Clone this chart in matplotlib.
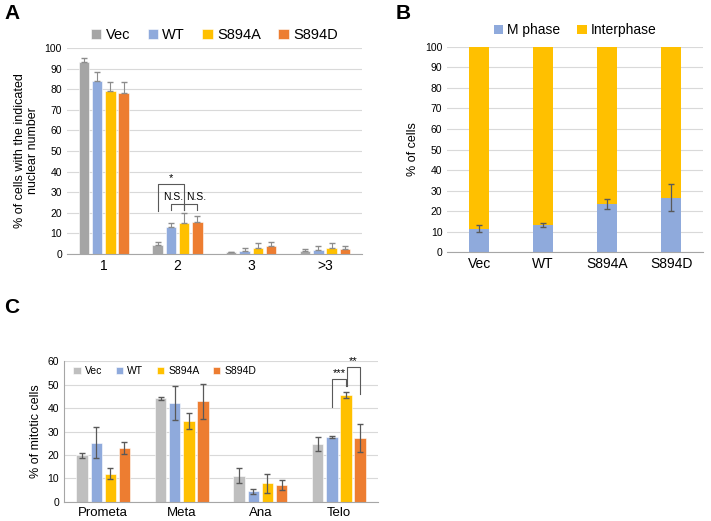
import matplotlib.pyplot as plt
import numpy as np

plt.rcParams['font.family'] = ['Liberation Sans', 'DejaVu Sans']

groups = ['Vec', 'WT', 'S894A', 'S894D']
colors_a = ['#A5A5A5', '#8FAADC', '#FFC000', '#ED7D31']
colors_c = ['#BFBFBF', '#8FAADC', '#FFC000', '#ED7D31']

# panel A: nuclear number
nuc_cats = ['1', '2', '3', '>3']
nuc_mean = {
    'Vec':   [93.0, 4.2, 0.8, 1.6],
    'WT':    [84.0, 13.0, 1.3, 2.0],
    'S894A': [79.0, 15.0, 3.0, 3.0],
    'S894D': [78.2, 15.5, 4.0, 2.4],
}
nuc_err = {
    'Vec':   [2.0, 1.5, 0.4, 0.8],
    'WT':    [4.5, 2.0, 1.8, 2.0],
    'S894A': [4.5, 5.0, 2.5, 2.2],
    'S894D': [5.5, 2.8, 1.8, 1.6],
}

# panel B: M phase vs interphase
mphase = [11.3, 13.2, 23.5, 26.5]
mphase_err = [1.7, 0.8, 2.5, 6.5]
interphase = [100 - v for v in mphase]

# panel C: mitotic stages
stages = ['Prometa', 'Meta', 'Ana', 'Telo']
mit_mean = {
    'Vec':   [19.8, 44.2, 11.2, 24.7],
    'WT':    [25.3, 42.3, 4.5, 27.8],
    'S894A': [12.0, 34.4, 8.0, 45.4],
    'S894D': [23.0, 42.8, 7.3, 27.2],
}
mit_err = {
    'Vec':   [1.0, 0.6, 3.3, 3.0],
    'WT':    [6.5, 7.2, 1.0, 0.5],
    'S894A': [2.3, 3.4, 4.0, 1.3],
    'S894D': [2.5, 7.5, 2.0, 6.0],
}

fig = plt.figure(figsize=(7.11, 5.21), dpi=100)
grid_c = '#D9D9D9'
spine_c = '#A6A6A6'


def style(ax):
    for s in ['top', 'right', 'left']:
        ax.spines[s].set_visible(False)
    ax.spines['bottom'].set_color(spine_c)
    ax.grid(axis='y', color=grid_c, linewidth=0.8)
    ax.set_axisbelow(True)
    ax.tick_params(axis='both', length=0)


def bracket(ax, x1, x2, top, y1, y2, lw=0.8):
    ax.plot([x1, x1, x2, x2], [y1, top, top, y2], color='#595959', lw=lw)


# ---- A ----
axA = fig.add_axes([0.094, 0.5125, 0.415, 0.3955])
x = np.arange(len(nuc_cats))
w, step = 0.14, 0.18
for i, g in enumerate(groups):
    xs = x + (i - 1.5) * step
    axA.bar(xs, nuc_mean[g], w, color=colors_a[i], label=g, edgecolor='white', linewidth=0.4)
    axA.errorbar(xs, nuc_mean[g], yerr=[np.zeros(4), nuc_err[g]], fmt='none',
                 ecolor='#8C8C8C', elinewidth=0.8, capsize=2)
axA.set_xlim(-0.5, 3.5)
axA.set_ylim(0, 100)
axA.set_yticks(range(0, 101, 10))
axA.set_xticks(x)
axA.set_xticklabels(nuc_cats, fontsize=10)
axA.tick_params(axis='y', labelsize=7.5)
style(axA)
axA.set_ylabel('% of cells with the indicated\nnuclear number', fontsize=9, linespacing=1.1)
axA.legend(loc='lower center', bbox_to_anchor=(0.5, 0.965), ncol=4, frameon=False,
           fontsize=10.5, handlelength=0.7, handleheight=0.7, handletextpad=0.3, columnspacing=1.2)
xv, xw, xa, xd = [1 + (i - 1.5) * step for i in range(4)]
bracket(axA, xv, xa, 34, 21, 24.5)
axA.text((xv + xa) / 2, 34.5, '*', ha='center', va='bottom', fontsize=8)
bracket(axA, xw, xa, 24.5, 21.5, 21.5)
bracket(axA, xa, xd, 24.5, 21.5, 21.5)
axA.text((xw + xa) / 2 - 0.06, 25.2, 'N.S.', ha='center', va='bottom', fontsize=7.5)
axA.text((xa + xd) / 2 + 0.07, 25.2, 'N.S.', ha='center', va='bottom', fontsize=7.5)

# ---- B ----
axB = fig.add_axes([0.629, 0.516, 0.360, 0.394])
xb = np.arange(len(groups))
axB.bar(xb, mphase, 0.31, color='#8FAADC', label='M phase')
axB.bar(xb, interphase, 0.31, bottom=mphase, color='#FFC000', label='Interphase')
axB.errorbar(xb, mphase, yerr=mphase_err, fmt='none', ecolor='#595959',
             elinewidth=0.9, capsize=2)
axB.set_xlim(-0.5, 3.5)
axB.set_ylim(0, 100)
axB.set_yticks(range(0, 101, 10))
axB.set_xticks(xb)
axB.set_xticklabels(groups, fontsize=10)
axB.tick_params(axis='y', labelsize=7.5)
style(axB)
axB.set_ylabel('% of cells', fontsize=9)
axB.legend(loc='lower center', bbox_to_anchor=(0.5, 0.985), ncol=2, frameon=False,
           fontsize=10, handlelength=0.7, handleheight=0.7, handletextpad=0.3, columnspacing=1.2)

# ---- C ----
axC = fig.add_axes([0.090, 0.0365, 0.442, 0.2705])
xc = np.arange(len(stages))
w, step = 0.145, 0.18
for i, g in enumerate(groups):
    xs = xc + (i - 1.5) * step
    axC.bar(xs, mit_mean[g], w, color=colors_c[i], label=g, edgecolor='white', linewidth=0.4)
    axC.errorbar(xs, mit_mean[g], yerr=mit_err[g], fmt='none', ecolor='#595959',
                 elinewidth=0.9, capsize=2)
axC.set_xlim(-0.5, 3.5)
axC.set_ylim(0, 60)
axC.set_yticks(range(0, 61, 10))
axC.set_xticks(xc)
axC.set_xticklabels(stages, fontsize=9.5)
axC.tick_params(axis='y', labelsize=7.5)
style(axC)
axC.spines['left'].set_visible(True)
axC.spines['left'].set_color(spine_c)
axC.set_ylabel('% of mitotic cells', fontsize=9)
axC.legend(loc='upper left', bbox_to_anchor=(0.0, 1.03), ncol=4, frameon=False,
           fontsize=7.5, handlelength=0.7, handleheight=0.7, handletextpad=0.4, columnspacing=1.3)
tw, ta, td = [3 + (i - 1.5) * step for i in (1, 2, 3)]
bracket(axC, tw, ta, 52.3, 40.4, 49.4)
axC.text((tw + ta) / 2, 52.6, '***', ha='center', va='bottom', fontsize=8)
bracket(axC, ta + 0.01, td, 57.4, 49.4, 46)
axC.text((ta + td) / 2, 57.7, '**', ha='center', va='bottom', fontsize=8)

fig.text(0.006, 0.993, 'A', fontsize=15, fontweight='bold', va='top')
fig.text(0.556, 0.993, 'B', fontsize=15, fontweight='bold', va='top')
fig.text(0.006, 0.428, 'C', fontsize=15, fontweight='bold', va='top')

fig.savefig('out.png', dpi=100)
